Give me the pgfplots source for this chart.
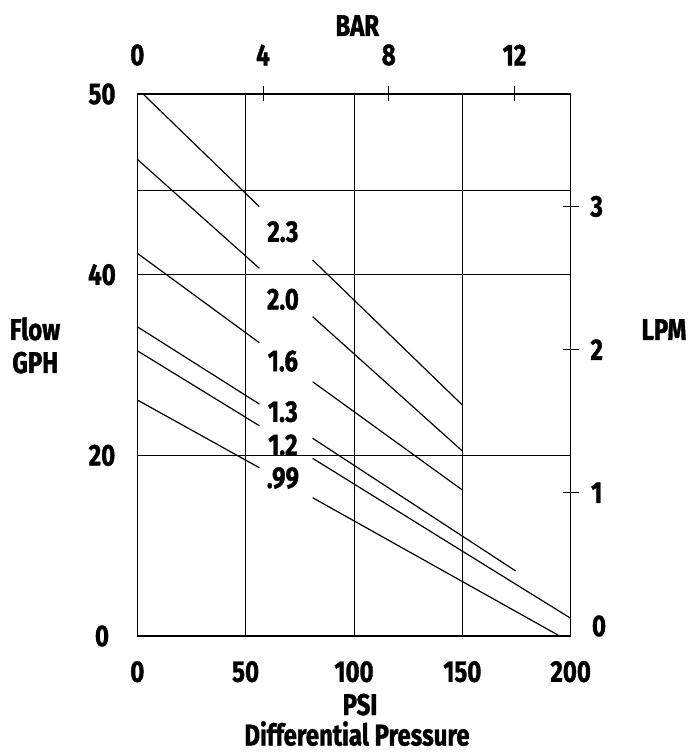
\documentclass[border=0pt]{standalone}
\usepackage{pgfplots}
\pgfplotsset{compat=1.18}
\usepackage{fontspec}
\setmainfont{Fira Sans}[FakeStretch=0.8, BoldFeatures={FakeBold=1.2}]
\newcommand{\lbl}{\fontsize{30bp}{34bp}\selectfont\bfseries}

\begin{document}
\begin{tikzpicture}[font=\lbl]
\useasboundingbox (-137.3bp,-117bp) rectangle (553.7bp,636bp);
% main axis: PSI vs GPH
\begin{axis}[
  at={(0,0)}, anchor=south west,
  scale only axis, width=433.4bp, height=542bp,
  xmin=0, xmax=200, ymin=0, ymax=60,
  axis line style={line width=1.4bp},
  xtick={0,50,100,150,200}, xticklabels={0,50,100,150,200},
  ytick={0,20,40,60}, yticklabels={0,20,40,50},
  extra y ticks={49.3}, extra y tick labels={},
  extra y tick style={grid=major, major tick length=0pt},
  major tick length=0pt,
  grid=major,
  major grid style={line width=0.9bp, black},
  xticklabel style={anchor=center, yshift=-35.7bp},
  yticklabel style={anchor=center, xshift=-35.3bp},
  tick label style={font=\lbl},
  unbounded coords=jump,
  clip=false,
]
% 2.3
\addplot[black, line width=1.2bp] coordinates {(3.09,59.9) (56.3,47.53) (68,nan) (80.9,41.63) (150,25.57)};
% 2.0
\addplot[black, line width=1.2bp] coordinates {(0,52.77) (56.3,40.71) (68,nan) (80.9,35.35) (150,20.48)};
% 1.6
\addplot[black, line width=1.2bp] coordinates {(0,42.37) (56.3,32.47) (68,nan) (80.9,28.15) (150,16.16)};
% 1.3
\addplot[black, line width=1.2bp] coordinates {(0,34.24) (56.3,25.68) (68,nan) (80.9,21.89) (174.6,7.20)};
% 1.2
\addplot[black, line width=1.2bp] coordinates {(0,31.58) (56.3,23.28) (68,nan) (80.9,19.67) (200,1.96)};
% .99
\addplot[black, line width=1.2bp] coordinates {(0,26.13) (56.3,18.63) (68,nan) (80.9,15.31) (194.3,0.08)};
\node at (axis cs:67.2,44.76) {2.3};
\node at (axis cs:67.2,37.27) {2.0};
\node at (axis cs:67.2,30.44) {1.6};
\node at (axis cs:67.2,24.83) {1.3};
\node at (axis cs:67.2,21.14) {1.2};
\node at (axis cs:67.2,17.49) {.99};
\end{axis}
% top axis: BAR
\begin{axis}[
  at={(0,0)}, anchor=south west,
  scale only axis, width=433.4bp, height=542bp,
  xmin=0, xmax=13.7895, ymin=0, ymax=1,
  axis x line*=top, axis y line=none,
  axis line style={line width=1.4bp},
  xtick={4,8,12}, xticklabels={4,8,12},
  extra x ticks={0}, extra x tick labels={0},
  extra x tick style={major tick length=0pt, xticklabel style={yshift=7.5bp}},
  major tick length=15bp, tick align=center,
  tick style={line width=0.9bp, black},
  xticklabel style={anchor=center, yshift=31.5bp},
  tick label style={font=\lbl},
]
\end{axis}
% right axis: LPM
\begin{axis}[
  at={(0,0)}, anchor=south west,
  scale only axis, width=433.4bp, height=542bp,
  xmin=0, xmax=1, ymin=0, ymax=3.78541,
  axis y line*=right, axis x line=none,
  axis line style={line width=1.4bp},
  ytick={1,2,3}, yticklabels={1,2,3},
  major tick length=16bp, tick align=center,
  tick style={line width=0.9bp, black},
  yticklabel style={anchor=center, xshift=18bp},
  tick label style={font=\lbl},
]
\end{axis}
\node[anchor=center] at (461.7bp,10bp) {0};
\node[anchor=base] at (220bp,600bp) {BAR};
\node[anchor=base] at (222.7bp,-79bp) {PSI};
\node[anchor=base] at (219.7bp,-109.5bp) {Differential Pressure};
\node[anchor=base] at (-102.3bp,296bp) {Flow};
\node[anchor=base] at (-102bp,263bp) {GPH};
\node[anchor=base] at (526.7bp,296bp) {LPM};
\end{tikzpicture}
\end{document}
